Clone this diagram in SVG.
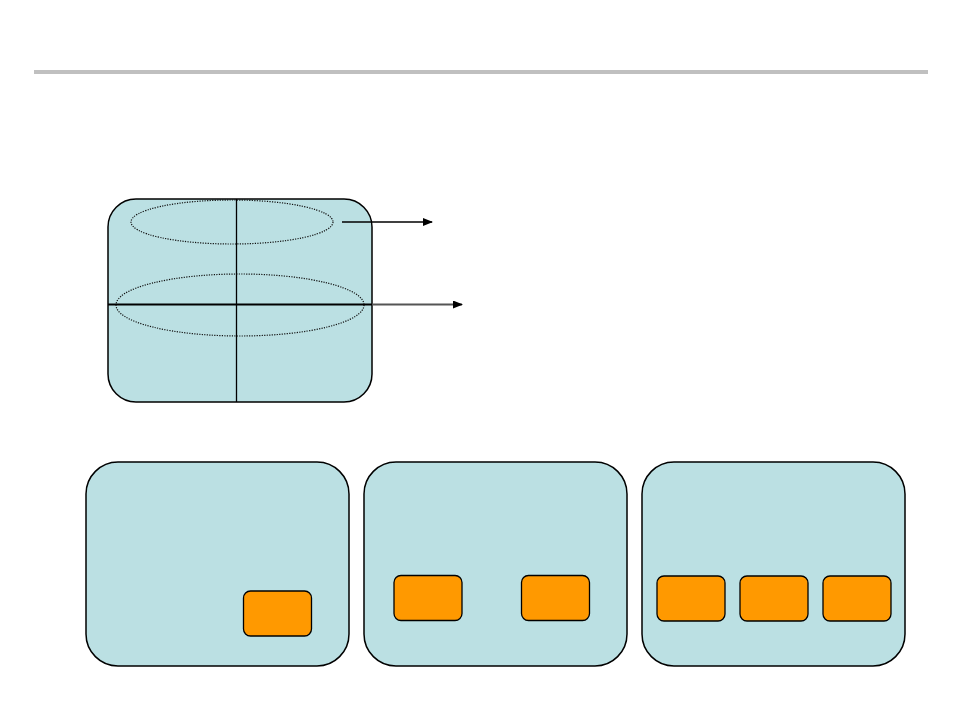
<svg xmlns="http://www.w3.org/2000/svg" width="954" height="716" viewBox="0 0 954 716">
<style>
.panel{fill:#bbe0e3;stroke:#000;stroke-width:1.5}
.chip{fill:#ff9900;stroke:#000;stroke-width:1.3}
.dot{fill:none;stroke:#111;stroke-width:1.2;stroke-dasharray:1.2 1.3}
.ln{stroke:#000;stroke-width:1.3;fill:none}
</style>
<defs>
<marker id="ah" markerWidth="10" markerHeight="8" refX="9" refY="4" orient="auto" markerUnits="userSpaceOnUse">
<path d="M0,0 L10,4 L0,8 Z" fill="#000"/>
</marker>
</defs>
<rect x="34" y="70" width="894" height="4" fill="#c0c0c0"/>
<g id="cylinder">
<rect class="panel" x="108" y="199" width="264" height="203" rx="28" ry="28"/>
<line class="ln" x1="236.5" y1="199" x2="236.5" y2="402"/>
<ellipse class="dot" cx="232" cy="222" rx="101" ry="22"/>
<ellipse class="dot" cx="240" cy="305" rx="124" ry="31"/>
</g>
<g id="connectors">
<line class="ln" x1="342" y1="222" x2="432" y2="222" marker-end="url(#ah)"/>
<line x1="108" y1="304.5" x2="372" y2="304.5" stroke="#000" stroke-width="2"/>
<line x1="372" y1="304.5" x2="462" y2="304.5" stroke="#555" stroke-width="2" marker-end="url(#ah)"/>
</g>
<g id="panel1">
<rect class="panel" x="86" y="462" width="263" height="204" rx="32" ry="32"/>
<rect class="chip" x="243.5" y="591" width="68" height="45" rx="7" ry="7"/>
</g>
<g id="panel2">
<rect class="panel" x="364" y="462" width="263" height="204" rx="32" ry="32"/>
<rect class="chip" x="394" y="575.5" width="68" height="45" rx="7" ry="7"/>
<rect class="chip" x="521.5" y="575.5" width="68" height="45" rx="7" ry="7"/>
</g>
<g id="panel3">
<rect class="panel" x="642" y="462" width="263" height="204" rx="32" ry="32"/>
<rect class="chip" x="657" y="576" width="68" height="45" rx="7" ry="7"/>
<rect class="chip" x="740" y="576" width="68" height="45" rx="7" ry="7"/>
<rect class="chip" x="823" y="576" width="68" height="45" rx="7" ry="7"/>
</g>
</svg>
